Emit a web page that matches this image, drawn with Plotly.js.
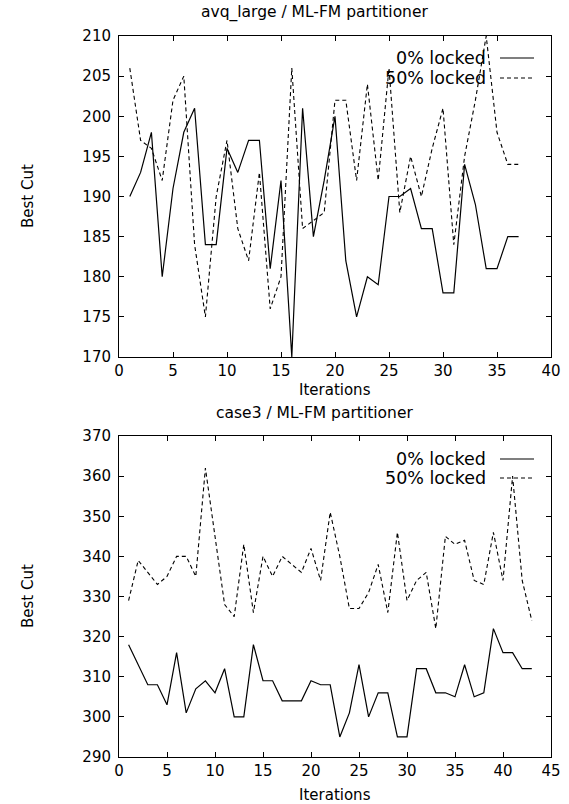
<!DOCTYPE html>
<html>
<head>
<meta charset="utf-8">
<script src="https://cdn.plot.ly/plotly-3.0.1.min.js"></script>
<style>html,body{margin:0;padding:0;background:#fff}#chart{width:569px;height:804px}</style>
</head>
<body>
<div id="chart"></div>
<script>
// Top chart: avq_large / ML-FM partitioner
const topIter = [1,2,3,4,5,6,7,8,9,10,11,12,13,14,15,16,17,18,19,20,21,22,23,24,25,26,27,28,29,30,31,32,33,34,35,36,37];
const topLocked0 = [190,193,198,180,191,198,201,184,184,196,193,197,197,181,192,170,201,185,192,200,182,175,180,179,190,190,191,186,186,178,178,194,189,181,181,185,185];
const topLocked50 = [206,197,196,192,202,205,184,175,190,197,186,182,193,176,180,206,186,187,188,202,202,192,204,192,206,188,195,190,196,201,184,195,202,210,198,194,194];

// Bottom chart: case3 / ML-FM partitioner
const botIter = [1,2,3,4,5,6,7,8,9,10,11,12,13,14,15,16,17,18,19,20,21,22,23,24,25,26,27,28,29,30,31,32,33,34,35,36,37,38,39,40,41,42,43];
const botLocked0 = [318,313,308,308,303,316,301,307,309,306,312,300,300,318,309,309,304,304,304,309,308,308,295,301,313,300,306,306,295,295,312,312,306,306,305,313,305,306,322,316,316,312,312];
const botLocked50 = [329,339,336,333,335,340,340,335,362,345,328,325,343,326,340,335,340,338,336,342,334,351,340,327,327,331,338,326,346,329,334,336,322,345,343,344,334,333,346,334,360,334,324];

const seriesNames = ["0% locked", "50% locked"];
const titles = ["avq_large / ML-FM partitioner", "case3 / ML-FM partitioner"];
const xTitle = "Iterations";
const yTitle = "Best Cut";
const topYTicks = [170,175,180,185,190,195,200,205,210];
const botYTicks = [290,300,310,320,330,340,350,360,370];
const topXTicks = [0,5,10,15,20,25,30,35,40];
const botXTicks = [0,5,10,15,20,25,30,35,40,45];

const FONT = "DejaVu Sans, Liberation Sans, Arial, sans-serif";
const solid = {color:"#000", width:1.2, dash:"solid"};
const dashed = {color:"#000", width:1.1, dash:"4px,3px"};

const traces = [
  {x: topIter, y: topLocked0, name: seriesNames[0], mode:"lines", line: solid, xaxis:"x", yaxis:"y", showlegend:false},
  {x: topIter, y: topLocked50, name: seriesNames[1], mode:"lines", line: dashed, xaxis:"x", yaxis:"y", showlegend:false},
  {x: botIter, y: botLocked0, name: seriesNames[0], mode:"lines", line: solid, xaxis:"x2", yaxis:"y2", showlegend:false},
  {x: botIter, y: botLocked50, name: seriesNames[1], mode:"lines", line: dashed, xaxis:"x2", yaxis:"y2", showlegend:false}
];

function axis(extra){
  return Object.assign({
    showgrid:false, zeroline:false, showline:true, linecolor:"#000", linewidth:1,
    mirror:"ticks", ticks:"inside", ticklen:5, tickwidth:1, tickcolor:"#000",
    tickfont:{family:FONT, size:15, color:"#000"}, fixedrange:true
  }, extra);
}

const W = 569, H = 804, mL = 119, mR = 18, mT = 36, mB = 47;
const plotW = W - mL - mR, plotH = H - mT - mB;
const topDom = [1 - 321/plotH, 1];
const botDom = [0, 1 - 400/plotH];
const px = (x)=> (x - mL)/plotW;
const py = (y)=> 1 - (y - mT)/plotH;

const layout = {
  width:W, height:H,
  margin:{l:mL, r:mR, t:mT, b:mB},
  paper_bgcolor:"#fff", plot_bgcolor:"#fff",
  font:{family:FONT, size:15, color:"#000"},
  showlegend:false,
  xaxis: axis({range:[0,40], tickvals: topXTicks, anchor:"y"}),
  yaxis: axis({range:[170,210], tickvals: topYTicks, domain: topDom, anchor:"x", ticklabelstandoff:4}),
  xaxis2: axis({range:[0,45], tickvals: botXTicks, anchor:"y2"}),
  yaxis2: axis({range:[290,370], tickvals: botYTicks, domain: botDom, anchor:"x2", ticklabelstandoff:4}),
  annotations: [],
  shapes: []
};

function txt(t, x, y, opts){
  layout.annotations.push(Object.assign({text:t, xref:"paper", yref:"paper", x:px(x), y:py(y),
    xanchor:"center", yanchor:"middle", showarrow:false, borderpad:0,
    font:{family:FONT, size:15, color:"#000"}}, opts||{}));
}

// subplot titles
txt(titles[0], 314, 12, {font:{family:FONT, size:15.5, color:"#000"}});
txt(titles[1], 314, 413, {font:{family:FONT, size:15.5, color:"#000"}});
// axis titles
txt(xTitle, 335, 390);
txt(xTitle, 335, 795);
txt(yTitle, 28, 196, {textangle:-90});
txt(yTitle, 28, 596, {textangle:-90});

// gnuplot-style key: text then line sample, top right inside each panel
[[58,78],[459,478]].forEach(ys=>{
  [solid, dashed].forEach((ln,j)=>{
    txt(seriesNames[j], 487, ys[j], {xanchor:"right", font:{family:FONT, size:17.5, color:"#000"}});
    layout.shapes.push({type:"line", xref:"paper", yref:"paper",
      x0:px(500), x1:px(534), y0:py(ys[j]), y1:py(ys[j]),
      line:{color:"#000", width:ln.width, dash:ln.dash}});
  });
});

Plotly.newPlot("chart", traces, layout, {staticPlot:true, displayModeBar:false});
</script>
</body>
</html>
